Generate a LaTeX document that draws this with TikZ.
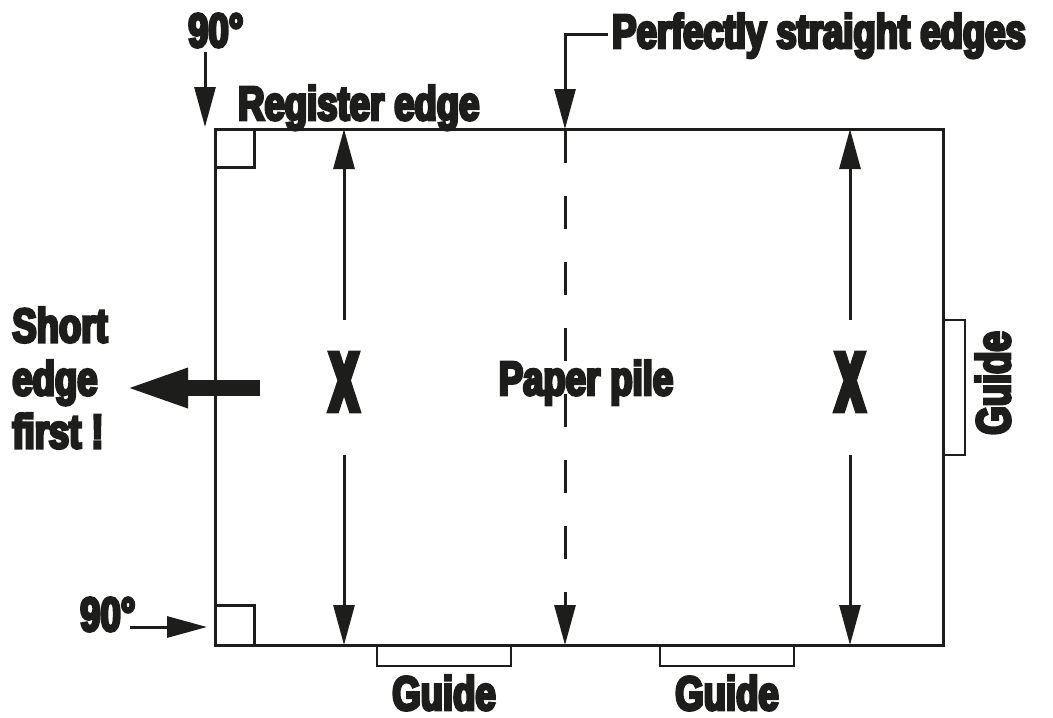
\documentclass[tikz,border=0pt]{standalone}
\usepackage{fontspec}
\newfontfamily\imp{Liberation Sans Bold}[FakeStretch=0.76,FakeBold=6]
\newfontfamily\impx{Liberation Sans Bold}[FakeStretch=0.62,FakeBold=8]
\usetikzlibrary{arrows.meta}
\definecolor{ink}{RGB}{29,29,27}
\begin{document}
\begin{tikzpicture}[x=1pt,y=-1pt,
  ln/.style={line width=3pt,draw=ink},
  arr/.style={ln,-{Triangle[length=40pt,width=21pt]}},
  lbl/.style={font=\imp\fontsize{48}{53}\selectfont,text=ink,inner sep=0pt},
  big/.style={font=\impx\fontsize{68}{70}\selectfont,text=ink,inner sep=0pt,yscale=1.2},
  guidebox/.style={ln,line width=2.5pt,fill=white}]
\useasboundingbox (0,0) rectangle (1053,718);
% guides
\draw[guidebox] (377,645) rectangle (511,666);
\draw[guidebox] (660,645) rectangle (794,666);
\draw[guidebox] (943,320) rectangle (965,455);
% paper pile
\node[ln,anchor=north west,minimum width=728pt,minimum height=516pt,outer sep=0pt,inner sep=0pt] (pile) at (215,129) {};
% corner squares
\draw[ln] (215,167) -| (254,129);
\draw[ln] (215,605) -| (254,645);
% labels
\node[lbl,anchor=base west] (deg1) at (188,47) {90°};
\node[lbl,anchor=base west] (reg) at (238,120) {Register edge};
\node[lbl,anchor=base west] (straight) at (612,48) {Perfectly straight edges};
\node[lbl,anchor=base west] (deg2) at (80,631) {90°};
\node[lbl,anchor=base] (paper) at (586,395) {Paper pile};
\node[lbl,align=left,anchor=center] (short) at (60,378) {Short\\edge\\first !};
\node[lbl,anchor=base] (g1) at (444,710) {Guide};
\node[lbl,anchor=base] (g2) at (727,710) {Guide};
\node[lbl,anchor=base,rotate=90] (g3) at (1010,383) {Guide};
\node[big] (x1) at (344,382) {X};
\node[big] (x2) at (850,382) {X};
% coordinates
\coordinate (d1s) at (205,52);
\coordinate (d1e) at (205,127);
\coordinate (d2s) at (130,627);
\coordinate (d2e) at (207,627);
\coordinate (ps) at (608,34);
\coordinate (pe) at (565,129);
\coordinate (bs) at (260,388);
\coordinate (be) at (123,388);
% arrows
\draw[arr] (d1s) -- (d1e);
\draw[arr] (d2s) -- (d2e);
\draw[arr] (ps) -| (pe);
\draw[arr] (344,320) -- (x1 |- pile.north);
\draw[arr] (344,455) -- (x1 |- pile.south);
\draw[arr] (850,320) -- (x2 |- pile.north);
\draw[arr] (850,455) -- (x2 |- pile.south);
\draw[ln,dash pattern=on 33pt off 33pt] (565,130) -- (565,598);
\draw[arr] (565,595) -- (565,645);
\draw[draw=ink,line width=16pt,-{Triangle[length=65pt,width=35pt]}] (bs) -- (be);
\end{tikzpicture}
\end{document}
